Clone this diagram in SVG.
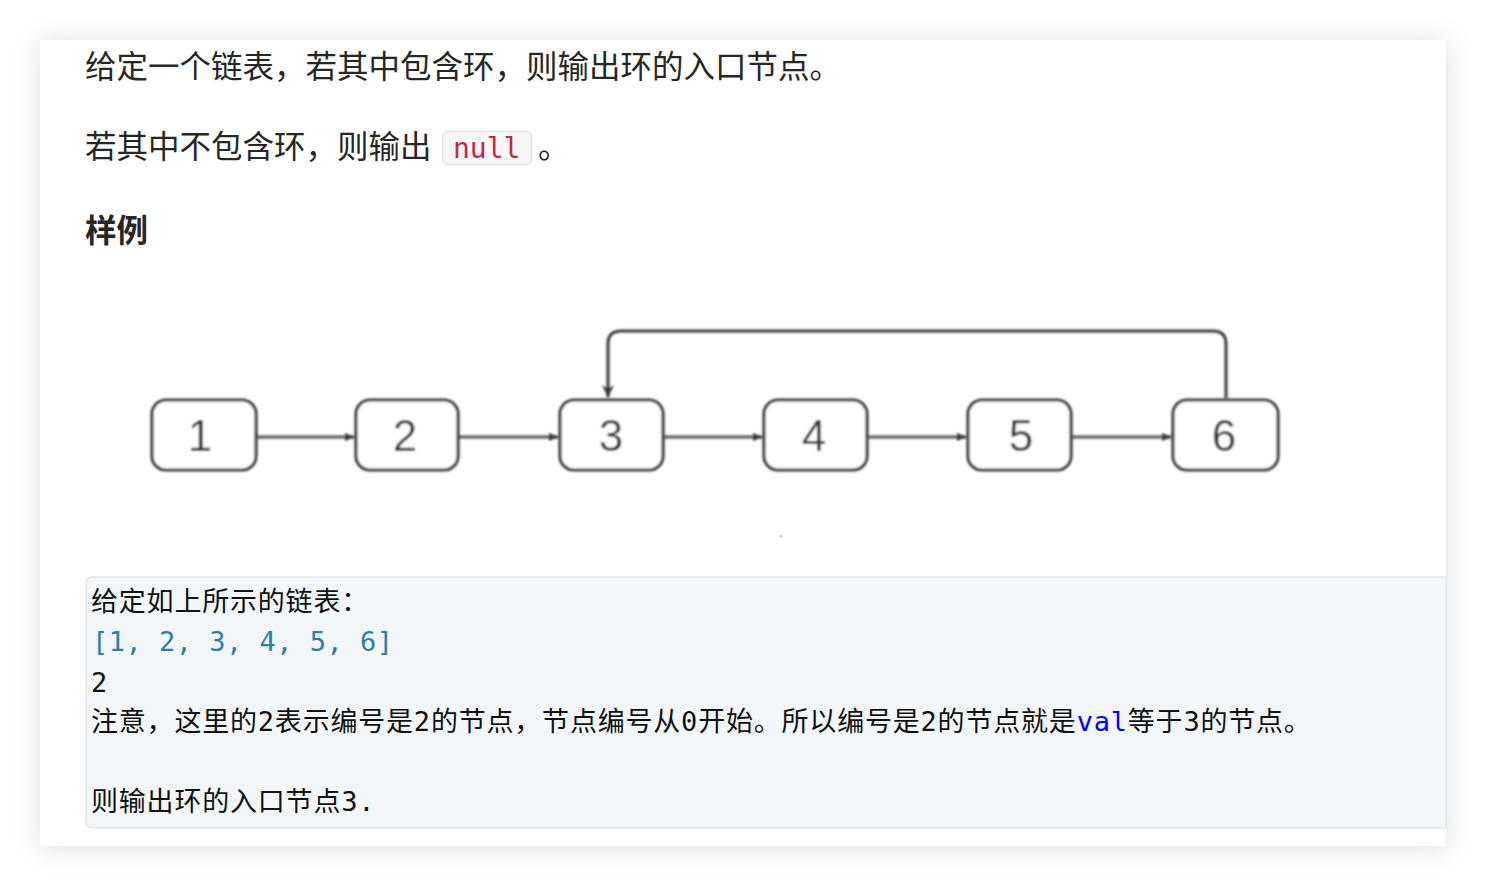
<svg xmlns="http://www.w3.org/2000/svg" width="1486" height="886" viewBox="0 0 1486 886">
<defs>
  <filter id="shadow" x="-10%" y="-10%" width="120%" height="120%">
    <feDropShadow dx="0" dy="2" stdDeviation="14" flood-color="#000" flood-opacity="0.13"/>
  </filter>
  <filter id="soft" x="-10%" y="-10%" width="120%" height="120%">
    <feGaussianBlur stdDeviation="0.9"/>
  </filter>
  <marker id="ah" viewBox="0 0 10 10" refX="9" refY="5" markerWidth="10" markerHeight="10" markerUnits="userSpaceOnUse" orient="auto">
    <path d="M0,1 L10,5 L0,9 Z" fill="#3a3a3a"/>
  </marker>
  <marker id="ahv" viewBox="0 0 14 14" refX="12" refY="7" markerWidth="14" markerHeight="14" markerUnits="userSpaceOnUse" orient="auto">
    <path d="M0,1 L13,7 L0,13 L4,7 Z" fill="#3a3a3a"/>
  </marker>
</defs>
<style>
  .t { font-family: "Noto Sans CJK SC", "Noto Sans", sans-serif; font-size: 31.5px; fill: #262626; }
  .b { font-weight: bold; }
  .mono { font-family: "DejaVu Sans Mono", "Liberation Mono", monospace; }
  .c { font-family: "DejaVu Sans Mono", "Noto Sans CJK SC", monospace; font-size: 27px; fill: #111; letter-spacing: 0.8px; }
  .arr { fill: #2b7ea8; letter-spacing: 0.5px; }
  .node rect { fill: #fff; stroke: #3a3a3a; stroke-width: 3.2; }
  .node text { font-family: "Liberation Sans", Arial, sans-serif; font-size: 44px; fill: #2e2e2e; text-anchor: middle; }
  .edge { fill: none; stroke: #6a6a6a; stroke-width: 3.5; }
  .loop { fill: none; stroke: #3a3a3a; stroke-width: 3; }
</style>
<rect width="1486" height="886" fill="#fff"/>
<rect x="40" y="40" width="1406" height="806" fill="#fff" filter="url(#shadow)"/>

<text class="t" x="85" y="78">给定一个链表，若其中包含环，则输出环的入口节点。</text>
<text class="t" x="85" y="158">若其中不包含环，则输出</text>
<rect x="442.5" y="131.5" width="89" height="33" rx="5" fill="#f6f6f6" stroke="#e3e3e3" stroke-width="1.5"/>
<text class="mono" x="453" y="158" font-size="28" fill="#c7254e">null</text>
<text class="t" x="538" y="158">。</text>
<text class="t b" x="85" y="242">样例</text>

<g filter="url(#soft)">
  <g id="connectors">
    <line class="edge" x1="257" y1="437" x2="354" y2="437" marker-end="url(#ah)"/>
    <line class="edge" x1="459" y1="437" x2="558" y2="437" marker-end="url(#ah)"/>
    <line class="edge" x1="664" y1="437" x2="762" y2="437" marker-end="url(#ah)"/>
    <line class="edge" x1="868" y1="437" x2="966" y2="437" marker-end="url(#ah)"/>
    <line class="edge" x1="1072" y1="437" x2="1171" y2="437" marker-end="url(#ah)"/>
    <path class="loop" d="M1226,398 V344 Q1226,331 1213,331 H621 Q608,331 608,344 V397" marker-end="url(#ahv)"/>
  </g>
  <g id="node1" class="node"><rect x="152" y="400" width="104" height="70" rx="14"/><text x="200" y="451">1</text></g>
  <g id="node2" class="node"><rect x="356" y="400" width="102" height="70" rx="14"/><text x="405" y="451">2</text></g>
  <g id="node3" class="node"><rect x="560" y="400" width="103" height="70" rx="14"/><text x="611" y="451">3</text></g>
  <g id="node4" class="node"><rect x="764" y="400" width="103" height="70" rx="14"/><text x="814" y="451">4</text></g>
  <g id="node5" class="node"><rect x="968" y="400" width="103" height="70" rx="14"/><text x="1021" y="451">5</text></g>
  <g id="node6" class="node"><rect x="1173" y="400" width="105" height="70" rx="14"/><text x="1224" y="451">6</text></g>
</g>
<circle cx="781" cy="536" r="1.6" fill="#ccc"/>

<path d="M1446,577 H92 Q86,577 86,583 V822 Q86,828 92,828 H1446 Z" fill="#f3f6f9" stroke="#e4e7eb" stroke-width="1.5"/>
<text class="c" x="91" y="611">给定如上所示的链表：</text>
<text class="c arr" x="92" y="651">[1, 2, 3, 4, 5, 6]</text>
<text class="c" x="91" y="692">2</text>
<text class="c" x="91" y="731">注意，这里的2表示编号是2的节点，节点编号从0开始。所以编号是2的节点就是<tspan fill="#0000ff">val</tspan>等于3的节点。</text>
<text class="c" x="91" y="811">则输出环的入口节点3.</text>
</svg>
